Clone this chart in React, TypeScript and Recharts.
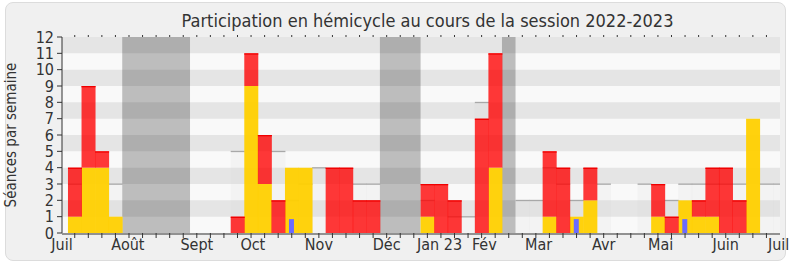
import React from "react";
import { ComposedChart, Bar, XAxis, YAxis, ReferenceArea } from "recharts";

const FONT = "'DejaVu Sans Condensed', 'DejaVu Sans', sans-serif";

// one entry per week, starting Monday 4 July 2022
const commission = [
  1, 4, 4, 1, 0, 0, 0, 0, 0, 0, 0, 0, 0, 9, 3, 0, 4, 4, 0, 0, 0, 0, 0, 0, 0, 0,
  1, 0, 0, 0, 0, 4, 0, 0, 0, 1, 0, 1, 2, 0, 0, 0, 0, 1, 0, 2, 1, 1, 0, 0, 7, 0, 0,
];
const hemicycle = [
  3, 5, 1, 0, 0, 0, 0, 0, 0, 0, 0, 0, 1, 2, 3, 2, 0, 0, 0, 4, 4, 2, 2, 0, 0, 0,
  2, 3, 2, 0, 7, 7, 0, 0, 0, 4, 4, 0, 2, 0, 0, 0, 0, 2, 1, 0, 1, 3, 4, 2, 0, 0, 0,
];
const median = [
  3, 0, 0, 3, 0, 0, 0, 0, 0, 0, 0, 0, 5, 0, 0, 5, 2, 3, 4, 0, 0, 3, 3, 0, 0, 0,
  2, 0, 1, 1, 8, 0, 0, 2, 2, 4, 3, 2, 0, 3, 0, 0, 3, 0, 2, 3, 3, 3, 3, 3, 0, 3, 3,
];
const questions = [
  0, 0, 0, 0, 0, 0, 0, 0, 0, 0, 0, 0, 0, 0, 0, 0, 0.85, 0, 0, 0, 0, 0, 0, 0, 0, 0,
  0, 0, 0, 0, 0, 0, 0, 0, 0, 0, 0, 0.85, 0, 0, 0, 0, 0, 0, 0, 0.85, 0, 0, 0, 0, 0, 0, 0,
];

const vacances = [
  [4, 9],
  [23, 26],
  [32, 33],
];

const monthLabels = ["Juil", "Août", "Sept", "Oct", "Nov", "Déc", "Jan 23", "Fév", "Mar", "Avr", "Mai", "Juin", "Juil"];
const monthTicks = [-0.44, 4.42, 9.5, 13.63, 18.5, 23.5, 27.4, 30.7, 34.7, 39.5, 43.7, 48.5, 52.4];
const yTicks = [0, 1, 2, 3, 4, 5, 6, 7, 8, 9, 10, 11, 12];
const grayBands = [1, 3, 5, 7, 9, 11];

const weekTicks = Array.from({ length: 52 }, (_, i) => i + 0.5);
const data = commission.map((c, i) => ({
  x: i + 0.5,
  commission: c,
  hemicycle: hemicycle[i],
  median: median[i],
  questions: questions[i],
}));

const DOMAIN: [number, number] = [-0.44, 52.5];

function RedBar(props: any) {
  const { x, y, width, height } = props;
  if (!height || height <= 0) return <g />;
  return (
    <g>
      <rect x={x} y={y} width={width} height={height} fill="#ff0000" fillOpacity={0.78} />
      <rect x={x} y={y} width={width} height={1.3} fill="#f00000" />
    </g>
  );
}

function MedianBar(props: any) {
  const { x, y, width, height } = props;
  if (!height || height <= 0) return <g />;
  return (
    <g>
      <rect x={x} y={y} width={width} height={height} fill="#d1d1d1" fillOpacity={0.15} />
      <rect x={x} y={y - 0.5} width={width} height={1.3} fill="#a8a8a8" />
    </g>
  );
}

// week tick marks only, no text
function WeekTick(props: any) {
  const { x, y, orientation } = props;
  const len = orientation === "top" ? -2 : 5;
  const y0 = orientation === "top" ? 37 : 233;
  return <line x1={x} x2={x} y1={y0} y2={y0 + len} stroke="#333" strokeWidth={1} />;
}

export default function App() {
  return (
    <div style={{ position: "absolute", left: 0, top: 0, width: 790, height: 267, fontFamily: FONT }}>
      <div
        style={{
          position: "absolute",
          left: 5,
          top: 2,
          width: 779,
          height: 257,
          border: "1px solid #dcdcdc",
          borderRadius: 8,
          background: "#f0f0f0",
        }}
      />
      <div style={{ position: "absolute", left: 0, top: 0 }}>
        <ComposedChart
          width={790}
          height={267}
          data={data}
          margin={{ top: 36, right: 10, bottom: 32, left: 0 }}
          barCategoryGap={0}
          barGap={0}
        >
          <ReferenceArea xAxisId="main" y1={0} y2={12} fill="#f9f9f9" fillOpacity={1} stroke="none" />
          {grayBands.map((b) => (
            <ReferenceArea key={b} xAxisId="main" y1={b} y2={b + 1} fill="#e5e5e5" fillOpacity={1} stroke="none" />
          ))}
          {vacances.map(([a, b]) => (
            <ReferenceArea key={a} xAxisId="main" x1={a} x2={b} y1={0} y2={12} fill="#000" fillOpacity={0.24} stroke="none" />
          ))}
          <XAxis
            xAxisId="main"
            type="number"
            dataKey="x"
            domain={DOMAIN}
            allowDataOverflow
            ticks={weekTicks}
            interval={0}
            height={1}
            tick={<WeekTick orientation="bottom" />}
            tickLine={false}
            tickSize={5}
            stroke="#333"
          />
          <XAxis
            xAxisId="lab"
            type="number"
            dataKey="x"
            domain={DOMAIN}
            allowDataOverflow
            ticks={monthTicks}
            interval={0}
            height={1}
            axisLine={false}
            tickLine={false}
            tickSize={5}
            tickMargin={1}
            tickFormatter={(_v: number, i: number) => monthLabels[i]}
            tick={{ fontSize: 16, fill: "#333", fontFamily: FONT }}
          />
          <XAxis
            xAxisId="top"
            orientation="top"
            type="number"
            dataKey="x"
            domain={DOMAIN}
            allowDataOverflow
            ticks={weekTicks}
            interval={0}
            height={1}
            axisLine={false}
            tickLine={false}
            tick={<WeekTick orientation="top" />}
          />
          <YAxis
            type="number"
            domain={[0, 12]}
            ticks={yTicks}
            interval={0}
            width={62}
            tickSize={5}
            tickMargin={3}
            stroke="#333"
            tick={{ fontSize: 16, fill: "#333", fontFamily: FONT }}
          />
          <Bar xAxisId="lab" dataKey="median" shape={MedianBar} isAnimationActive={false} />
          <Bar xAxisId="main" dataKey="commission" stackId="s" fill="#ffd000" fillOpacity={0.95} isAnimationActive={false} />
          <Bar xAxisId="main" dataKey="hemicycle" stackId="s" shape={RedBar} isAnimationActive={false} />
          <Bar xAxisId="top" dataKey="questions" barSize={5} fill="#6b6bff" isAnimationActive={false} />
        </ComposedChart>
      </div>
      <svg width={790} height={267} style={{ position: "absolute", left: 0, top: 0, pointerEvents: "none" }}>
        <text x={427.5} y={26.5} textAnchor="middle" fontSize={18} fill="#333" fontFamily={FONT}>
          Participation en hémicycle au cours de la session 2022-2023
        </text>
        <text transform="translate(16,135) rotate(-90)" textAnchor="middle" fontSize={15} fill="#333" fontFamily={FONT}>
          Séances par semaine
        </text>
      </svg>
    </div>
  );
}
